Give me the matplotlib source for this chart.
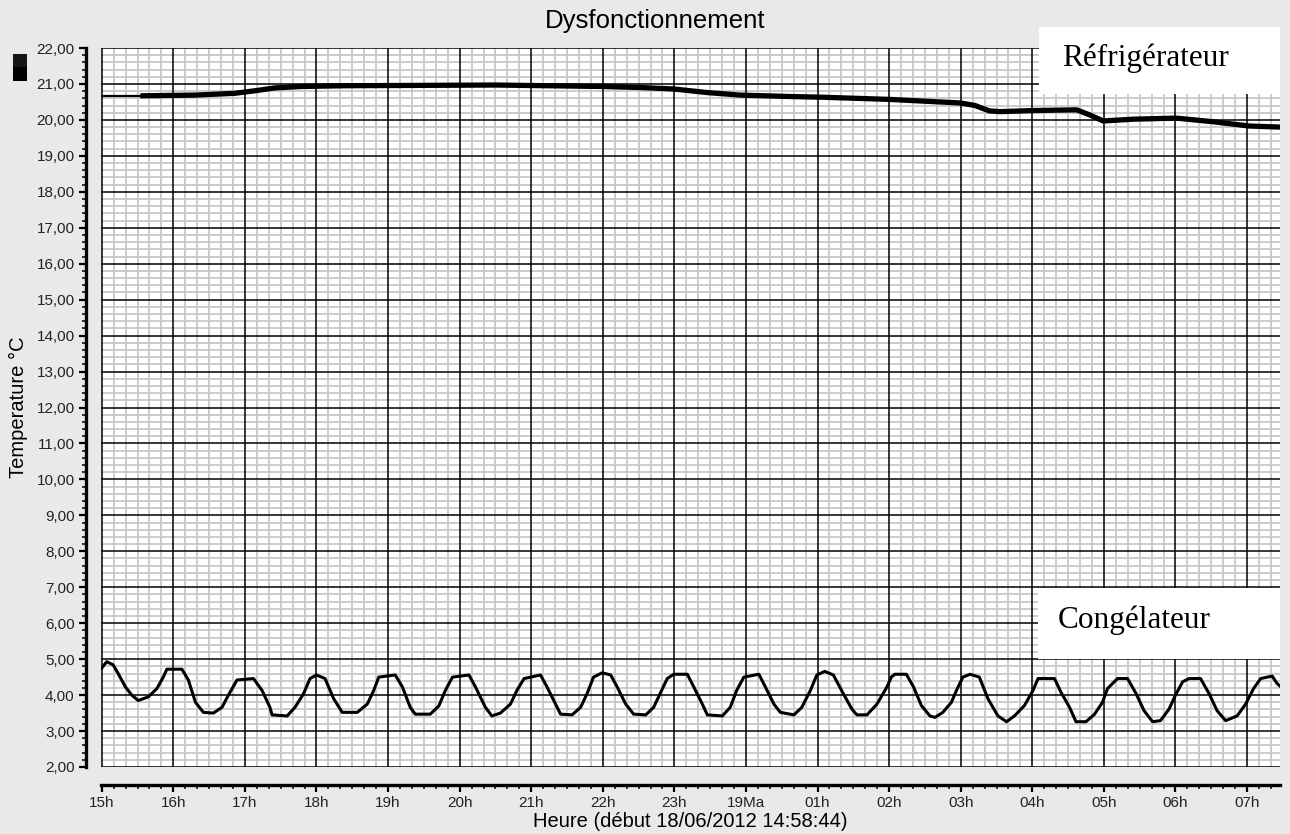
import matplotlib
matplotlib.use("Agg")
import matplotlib.pyplot as plt
from matplotlib.ticker import MultipleLocator, FixedLocator, FuncFormatter
from matplotlib.patches import Rectangle

# hours after 15h00 (start 18/06/2012 14:58:44)
hour_ticks = list(range(17))
hour_labels = ["15h", "16h", "17h", "18h", "19h", "20h", "21h", "22h", "23h",
               "19Ma", "01h", "02h", "03h", "04h", "05h", "06h", "07h"]
temp_ticks = list(range(2, 23))

# refrigerator temperature
fridge_t = [0.0, 0.54, 1.31, 1.86, 2.14, 2.42, 2.80, 3.40, 5.50, 6.97, 7.53,
            7.99, 8.46, 8.92, 9.62, 10.08, 11.01, 11.5, 12.0, 12.2, 12.4,
            12.55, 13.02, 13.62, 13.80, 13.99, 14.41, 15.01, 15.52, 16.03, 16.46]
fridge_v = [20.67, 20.67, 20.69, 20.74, 20.81, 20.89, 20.93, 20.95, 20.97, 20.93,
            20.90, 20.86, 20.76, 20.69, 20.65, 20.63, 20.57, 20.52, 20.47, 20.40,
            20.25, 20.23, 20.26, 20.28, 20.14, 19.97, 20.02, 20.05, 19.95, 19.83,
            19.80]

# freezer temperature
freezer_t = [0.0, 0.07, 0.16, 0.23, 0.33, 0.42, 0.51, 0.65, 0.77, 0.86, 0.91,
             1.12, 1.21, 1.31, 1.42, 1.56, 1.68, 1.77, 1.89, 2.12, 2.24, 2.35,
             2.38, 2.59, 2.70, 2.82, 2.91, 3.00, 3.12, 3.24, 3.36, 3.57, 3.71,
             3.80, 3.87, 4.10, 4.20, 4.31, 4.38, 4.59, 4.71, 4.80, 4.90, 5.13,
             5.22, 5.36, 5.45, 5.57, 5.71, 5.80, 5.90, 6.13, 6.22, 6.34, 6.41,
             6.57, 6.69, 6.78, 6.87, 6.99, 7.11, 7.20, 7.32, 7.43, 7.60, 7.71,
             7.80, 7.90, 7.99, 8.18, 8.27, 8.39, 8.46, 8.67, 8.78, 8.87, 8.97,
             9.18, 9.27, 9.39, 9.48, 9.67, 9.78, 9.90, 9.99, 10.10, 10.22, 10.36,
             10.48, 10.55, 10.69, 10.83, 10.97, 11.03, 11.08, 11.24, 11.34, 11.45,
             11.57, 11.64, 11.75, 11.87, 11.94, 12.03, 12.13, 12.26, 12.38, 12.52,
             12.64, 12.75, 12.89, 13.01, 13.08, 13.31, 13.40, 13.52, 13.61, 13.75,
             13.87, 13.98, 14.05, 14.19, 14.33, 14.45, 14.56, 14.68, 14.79, 14.91,
             15.00, 15.10, 15.19, 15.35, 15.47, 15.58, 15.70, 15.86, 15.98, 16.09,
             16.19, 16.35, 16.42, 16.46]
freezer_v = [4.75, 4.93, 4.84, 4.60, 4.23, 4.00, 3.85, 3.95, 4.18, 4.50, 4.72,
             4.72, 4.42, 3.80, 3.52, 3.50, 3.66, 4.00, 4.42, 4.46, 4.13, 3.66,
             3.45, 3.42, 3.66, 4.04, 4.46, 4.56, 4.46, 3.90, 3.52, 3.52, 3.75,
             4.13, 4.50, 4.56, 4.23, 3.66, 3.47, 3.47, 3.70, 4.13, 4.50, 4.56,
             4.23, 3.66, 3.42, 3.50, 3.75, 4.13, 4.46, 4.56, 4.23, 3.75, 3.47,
             3.45, 3.66, 4.04, 4.50, 4.62, 4.56, 4.23, 3.75, 3.47, 3.45, 3.66,
             4.04, 4.46, 4.58, 4.58, 4.23, 3.75, 3.45, 3.42, 3.66, 4.13, 4.50,
             4.58, 4.23, 3.75, 3.52, 3.45, 3.66, 4.13, 4.56, 4.66, 4.56, 4.04,
             3.61, 3.45, 3.45, 3.75, 4.23, 4.50, 4.58, 4.58, 4.23, 3.71,
             3.42, 3.38, 3.52, 3.80, 4.13, 4.50, 4.58, 4.50, 3.90, 3.42,
             3.26, 3.42, 3.71, 4.13, 4.46, 4.46, 4.08, 3.66, 3.26, 3.26,
             3.47, 3.80, 4.18, 4.46, 4.46, 4.04, 3.57, 3.26, 3.29, 3.61,
             4.00, 4.37, 4.46, 4.46, 4.04, 3.57, 3.29, 3.42, 3.75, 4.18,
             4.46, 4.53, 4.32, 4.25]

W, H = 1290, 834
bg = "#e9e9e9"
plt.rcParams["font.family"] = ["Liberation Sans", "DejaVu Sans"]

fig = plt.figure(figsize=(W / 100, H / 100), dpi=100, facecolor=bg)


def fx(px):
    return px / W


def fy(py):
    return 1 - py / H


ax = fig.add_axes([fx(101), fy(767), (1280 - 101) / W, (767 - 48) / H])
ax.set_facecolor("white")

ax.set_xlim(-0.01, 16.46)
ax.set_ylim(2, 22)

ax.xaxis.set_major_locator(FixedLocator(hour_ticks))
ax.set_xticklabels(hour_labels)
ax.xaxis.set_minor_locator(MultipleLocator(1 / 6))
ax.yaxis.set_major_locator(FixedLocator(temp_ticks))
ax.yaxis.set_minor_locator(MultipleLocator(0.2))
ax.yaxis.set_major_formatter(FuncFormatter(lambda v, p: f"{v:.2f}".replace(".", ",")))

# light grid from the minor ticks, dark grid drawn on top of it
ax.set_axisbelow(True)
ax.grid(which="minor", color="#c8c8c8", lw=1.3)
for t in hour_ticks:
    ax.axvline(t, color="black", lw=1.1, zorder=1.5)
for v in temp_ticks:
    ax.axhline(v, color="black", lw=1.1, zorder=1.5)

ax.plot(fridge_t[:2], fridge_v[:2], color="black", lw=1.6, zorder=3)
ax.plot(fridge_t[1:], fridge_v[1:], color="black", lw=3.8, zorder=3,
        solid_capstyle="butt")
ax.plot(freezer_t, freezer_v, color="black", lw=2.2, zorder=3)

for s in ["top", "right"]:
    ax.spines[s].set_visible(False)
ax.spines["left"].set_position(("outward", 11))
ax.spines["bottom"].set_position(("outward", 13))
for s in ["left", "bottom"]:
    ax.spines[s].set_linewidth(2.4)

ax.tick_params(which="major", length=5, width=1.6, color="black",
               labelsize=11, labelcolor="#222222", pad=3)
ax.tick_params(which="minor", length=3, width=1.1, color="black")

ax.set_ylabel("Temperature °C", fontsize=14.5, labelpad=6)
ax.set_xlabel("Heure (début 18/06/2012 14:58:44)", fontsize=14.5, labelpad=1)

fig.text(fx(655), fy(21), "Dysfonctionnement", fontsize=18.5,
         ha="center", va="center")

# legend swatch at top left
fig.add_artist(Rectangle((fx(13), fy(67)), 14 / W, 13 / H, transform=fig.transFigure,
                         facecolor="#151515", edgecolor="none"))
fig.add_artist(Rectangle((fx(13), fy(81)), 14 / W, 14 / H, transform=fig.transFigure,
                         facecolor="black", edgecolor="none"))

# labelled boxes
fig.add_artist(Rectangle((fx(1039), fy(94)), 241 / W, 67 / H, transform=fig.transFigure,
                         facecolor="white", edgecolor="none", zorder=5))
fig.text(fx(1062), fy(58), "Réfrigérateur", fontsize=22.5, family="Liberation Serif",
         ha="left", va="center", zorder=6)
fig.add_artist(Rectangle((fx(1038), fy(659)), 242 / W, 71 / H, transform=fig.transFigure,
                         facecolor="white", edgecolor="none", zorder=5))
fig.text(fx(1058), fy(620), "Congélateur", fontsize=22.5, family="Liberation Serif",
         ha="left", va="center", zorder=6)

fig.savefig("out.png", dpi=100, facecolor=bg)
